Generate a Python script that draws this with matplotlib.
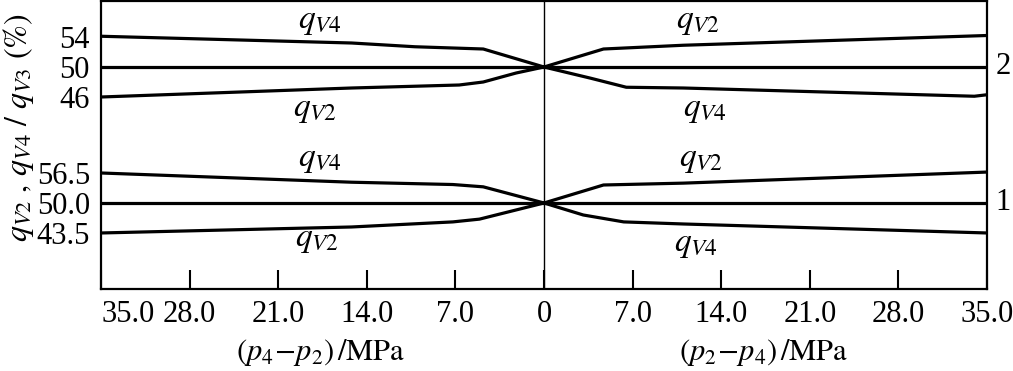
import numpy as np
import matplotlib
matplotlib.use("Agg")
import matplotlib.pyplot as plt

plt.rcParams['font.family'] = ['Liberation Serif', 'DejaVu Serif']
plt.rcParams['mathtext.fontset'] = 'stix'

# x values are pressure differences in MPa: left half is (p4-p2), right half is (p2-p4)
tick_vals = [35.0, 28.0, 21.0, 14.0, 7.0, 0, 7.0, 14.0, 21.0, 28.0, 35.0]

# curve 2 (upper group), flow share in %
c2_left_v4_x = [35, 15.2, 10.2, 4.8, 0]
c2_left_v4_y = [54.1, 53.2, 52.7, 52.4, 50.0]
c2_left_v2_x = [35, 15.2, 6.7, 4.8, 2.2, 0]
c2_left_v2_y = [46.0, 47.2, 47.6, 48.0, 49.2, 50.0]
c2_right_v2_x = [0, 4.7, 11.0, 35]
c2_right_v2_y = [50.0, 52.4, 52.9, 54.2]
c2_right_v4_x = [0, 3.7, 6.5, 11.0, 34, 35]
c2_right_v4_y = [50.0, 48.5, 47.3, 47.2, 46.1, 46.3]
c2_ticks = [46, 50, 54]
c2_labels = ['46', '50', '54']

# curve 1 (lower group)
c1_left_v4_x = [35, 15.2, 7.2, 4.8, 0]
c1_left_v4_y = [56.5, 54.5, 54.0, 53.5, 50.0]
c1_left_v2_x = [35, 15.2, 7.2, 5.1, 0]
c1_left_v2_y = [43.5, 44.8, 45.9, 46.5, 50.0]
c1_right_v2_x = [0, 4.7, 11.0, 35]
c1_right_v2_y = [50.0, 53.9, 54.3, 56.7]
c1_right_v4_x = [0, 3.1, 6.3, 11.0, 35]
c1_right_v4_y = [50.0, 47.4, 45.9, 45.45, 43.5]
c1_ticks = [43.5, 50.0, 56.5]
c1_labels = ['43.5', '50.0', '56.5']

W, H = 1013, 371
fig = plt.figure(figsize=(W / 100, H / 100), dpi=100)
pos = [101 / W, 82 / H, 886 / W, 288 / H]

ax = fig.add_axes(pos)
ax.set_xlim(-35, 35)
ax.set_ylim(0, 1)
ax.set_yticks([])
ticks_x = [-35, -28, -21, -14, -7, 0, 7, 14, 21, 28, 35]
ax.set_xticks(ticks_x)
ax.set_xticklabels(['%.1f' % v if v else '0' for v in tick_vals], fontsize=22)
ax.get_xticklabels()[0].set_horizontalalignment('left')
ax.tick_params(axis='x', direction='in', length=14, width=1.5, pad=8)
for s in ax.spines.values():
    s.set_linewidth(1.6)
ax.axvline(0, color='black', lw=1.0)

lw = 2.3
fs = 22
qfs = 24


def group_axes(ylim, ticks, labels):
    a = fig.add_axes(pos, sharex=ax)
    a.patch.set_visible(False)
    for s in a.spines.values():
        s.set_visible(False)
    a.set_ylim(*ylim)
    a.set_yticks(ticks)
    a.set_yticklabels(labels, fontsize=fs)
    a.tick_params(axis='y', length=0, pad=8)
    a.tick_params(axis='x', bottom=False, labelbottom=False)
    return a


ax2 = group_axes((20.4, 58.8), c2_ticks, c2_labels)
ax1 = group_axes((31.36, 93.77), c1_ticks, c1_labels)

for a, lv4x, lv4y, lv2x, lv2y, rv2x, rv2y, rv4x, rv4y in [
        (ax2, c2_left_v4_x, c2_left_v4_y, c2_left_v2_x, c2_left_v2_y,
         c2_right_v2_x, c2_right_v2_y, c2_right_v4_x, c2_right_v4_y),
        (ax1, c1_left_v4_x, c1_left_v4_y, c1_left_v2_x, c1_left_v2_y,
         c1_right_v2_x, c1_right_v2_y, c1_right_v4_x, c1_right_v4_y)]:
    a.plot(-np.array(lv4x), lv4y, color='black', lw=lw)
    a.plot(-np.array(lv2x), lv2y, color='black', lw=lw)
    a.plot(rv2x, rv2y, color='black', lw=lw)
    a.plot(rv4x, rv4y, color='black', lw=lw)
    a.plot([-35, 35], [50, 50], color='black', lw=lw)

# curve labels
ax2.text(-17.7, 56.0, r'$q_{V4}$', fontsize=qfs, ha='center', va='center')
ax2.text(-18.1, 44.3, r'$q_{V2}$', fontsize=qfs, ha='center', va='center')
ax2.text(12.2, 56.0, r'$q_{V2}$', fontsize=qfs, ha='center', va='center')
ax2.text(12.7, 44.3, r'$q_{V4}$', fontsize=qfs, ha='center', va='center')
ax1.text(-17.7, 59.3, r'$q_{V4}$', fontsize=qfs, ha='center', va='center')
ax1.text(-17.9, 42.0, r'$q_{V2}$', fontsize=qfs, ha='center', va='center')
ax1.text(12.4, 59.3, r'$q_{V2}$', fontsize=qfs, ha='center', va='center')
ax1.text(12.0, 40.9, r'$q_{V4}$', fontsize=qfs, ha='center', va='center')

ax2.text(1.01, 50, '2', fontsize=fs, ha='left', va='center',
         transform=ax2.get_yaxis_transform())
ax1.text(1.01, 50, '1', fontsize=fs, ha='left', va='center',
         transform=ax1.get_yaxis_transform())

fig.text(19 / W, 1 - 128 / H, r'$q_{V2}\ ,\,q_{V4}\ /\ q_{V3}\ (\%)$', fontsize=23,
         rotation=90, ha='center', va='center')
fig.text(321 / W, 1 - 352 / H, r'$(p_4\!-\!p_2)\,/\mathrm{MPa}$', fontsize=fs,
         ha='center', va='center')
fig.text(764 / W, 1 - 352 / H, r'$(p_2\!-\!p_4)\,/\mathrm{MPa}$', fontsize=fs,
         ha='center', va='center')

fig.savefig('out.png', dpi=100)
